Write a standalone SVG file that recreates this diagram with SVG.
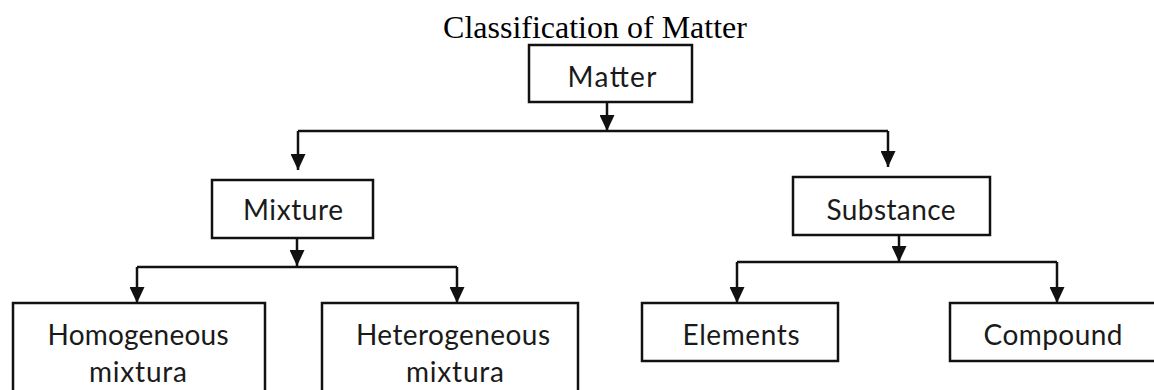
<svg xmlns="http://www.w3.org/2000/svg" width="1154" height="390" viewBox="0 0 1154 390">
<style>
.box{fill:#fff;stroke:#111;stroke-width:2.5}
.lbl{font-family:Lato,"Liberation Sans",sans-serif;font-size:28px;fill:#1a1a1a;text-anchor:middle}
.conn{fill:none;stroke:#111;stroke-width:2.5}
.title{font-family:"Liberation Serif","Times New Roman",serif;font-size:32px;fill:#000;text-anchor:middle}
</style>
<defs>
<marker id="ah" markerUnits="userSpaceOnUse" markerWidth="17" markerHeight="15" refX="16" refY="7.5" orient="auto">
<path d="M0,0 L16,7.5 L0,15 z" fill="#111"/>
</marker>
</defs>
<rect width="1154" height="390" fill="#fff"/>
<text class="title" x="595" y="38">Classification of Matter</text>
<g id="connectors">
<path class="conn" d="M607,102 V131" marker-end="url(#ah)"/>
<path class="conn" d="M298,131 H888"/>
<path class="conn" d="M298,131 V170" marker-end="url(#ah)"/>
<path class="conn" d="M888,131 V167" marker-end="url(#ah)"/>
<path class="conn" d="M297,238 V266" marker-end="url(#ah)"/>
<path class="conn" d="M137,267 H457"/>
<path class="conn" d="M137,267 V303" marker-end="url(#ah)"/>
<path class="conn" d="M457,267 V303" marker-end="url(#ah)"/>
<path class="conn" d="M899,235 V262" marker-end="url(#ah)"/>
<path class="conn" d="M737,262 H1057"/>
<path class="conn" d="M737,262 V303" marker-end="url(#ah)"/>
<path class="conn" d="M1057,262 V303" marker-end="url(#ah)"/>
</g>
<g id="matter"><rect class="box" x="529" y="45" width="163" height="57"/><text class="lbl" x="612" y="87" textLength="89">Matter</text></g>
<g id="mixture"><rect class="box" x="212" y="180" width="161" height="58"/><text class="lbl" x="293" y="220" textLength="100">Mixture</text></g>
<g id="substance"><rect class="box" x="793" y="177" width="197" height="58"/><text class="lbl" x="891" y="220" textLength="129">Substance</text></g>
<g id="homogeneous"><rect class="box" x="13" y="303" width="252" height="100"/><text class="lbl" x="138" y="345" textLength="181">Homogeneous</text><text class="lbl" x="138" y="382" textLength="98">mixtura</text></g>
<g id="heterogeneous"><rect class="box" x="322" y="303" width="256" height="100"/><text class="lbl" x="453" y="345" textLength="194">Heterogeneous</text><text class="lbl" x="455" y="382" textLength="98">mixtura</text></g>
<g id="elements"><rect class="box" x="642" y="303" width="196" height="58"/><text class="lbl" x="741" y="345" textLength="117">Elements</text></g>
<g id="compound"><rect class="box" x="950" y="303" width="210" height="58"/><text class="lbl" x="1053" y="345" textLength="139">Compound</text></g>
</svg>
